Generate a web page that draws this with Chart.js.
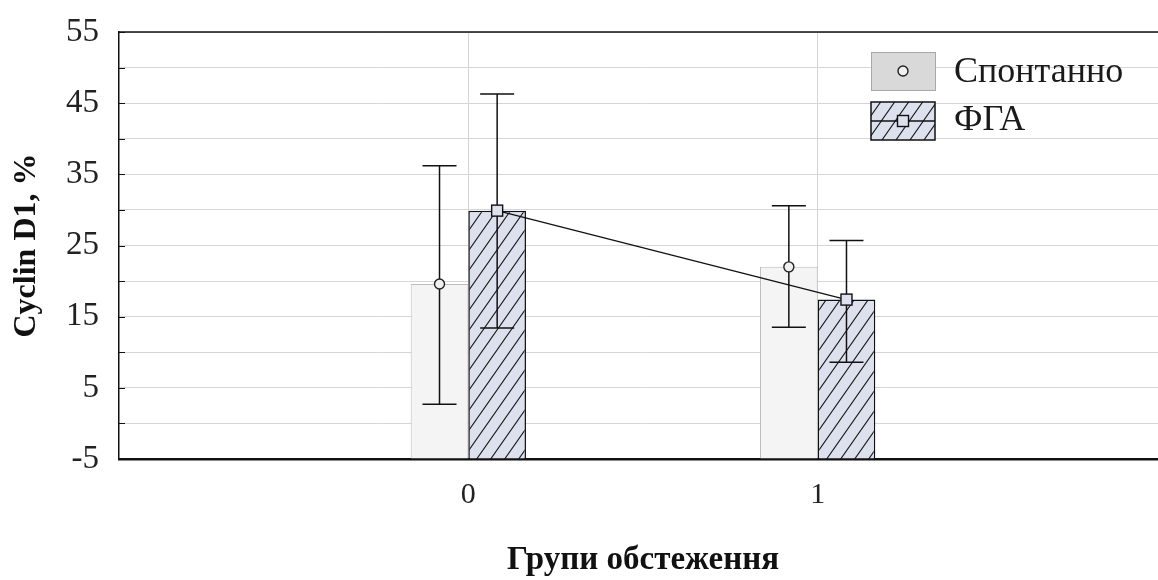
<!DOCTYPE html>
<html>
<head>
<meta charset="utf-8">
<script src="https://cdn.jsdelivr.net/npm/chart.js@4.4.1/dist/chart.umd.min.js"></script>
<style>
  html, body { margin: 0; padding: 0; background: #fff; overflow: hidden; }
  #wrap { width: 1167px; height: 580px; }
</style>
</head>
<body>
<div id="wrap"><canvas id="c" width="1167" height="580"></canvas></div>
<script>
// ---- data ----
const groups = [0, 1];
const seriesNames = ['Спонтанно', 'ФГА'];
const spontMean = [19.6, 22.0];
const spontLow  = [2.7, 13.5];
const spontHigh = [36.2, 30.6];
const fgaMean = [29.9, 17.4];
const fgaLow  = [13.4, 8.6];
const fgaHigh = [46.3, 25.7];
const yTickLabels = [-5, 5, 15, 25, 35, 45, 55];
const xTitle = 'Групи обстеження';
const yTitle = 'Cyclin D1, %';

// ---- hatch pattern ----
function makeHatch() {
  const w = 14, h = 20;
  const cv = document.createElement('canvas');
  cv.width = w; cv.height = h;
  const g = cv.getContext('2d');
  g.fillStyle = '#dde1ee';
  g.fillRect(0, 0, w, h);
  g.strokeStyle = '#1a1a1a';
  g.lineWidth = 1.1;
  g.beginPath();
  g.moveTo(-w, 2 * h); g.lineTo(2 * w, -h);
  g.moveTo(-2 * w, 2 * h); g.lineTo(w, -h);
  g.moveTo(0, 2 * h); g.lineTo(3 * w, -h);
  g.stroke();
  return g.createPattern(cv, 'repeat');
}
const ctx0 = document.getElementById('c').getContext('2d');
const hatch = makeHatch();

const SERIF = "'Liberation Serif', 'Times New Roman', serif";

function drawCircleMarker(ctx, x, y) {
  ctx.save();
  ctx.beginPath();
  ctx.arc(x, y, 5, 0, Math.PI * 2);
  ctx.fillStyle = '#f0f0f0';
  ctx.fill();
  ctx.lineWidth = 1.4;
  ctx.strokeStyle = '#222';
  ctx.stroke();
  ctx.restore();
}
function drawSquareMarker(ctx, x, y) {
  ctx.save();
  ctx.fillStyle = '#dde1ee';
  ctx.fillRect(x - 5.5, y - 5.5, 11, 11);
  ctx.lineWidth = 1.4;
  ctx.strokeStyle = '#111';
  ctx.strokeRect(x - 5.5, y - 5.5, 11, 11);
  ctx.restore();
}

const overlay = {
  id: 'overlay',
  afterDatasetsDraw(chart) {
    const ctx = chart.ctx;
    const ys = chart.scales.y;
    const area = chart.chartArea;
    const m0 = chart.getDatasetMeta(0).data;
    const m1 = chart.getDatasetMeta(1).data;

    // connecting line for ФГА
    ctx.save();
    ctx.strokeStyle = '#111';
    ctx.lineWidth = 1.3;
    ctx.beginPath();
    m1.forEach((el, i) => {
      const py = ys.getPixelForValue(fgaMean[i]);
      if (i === 0) ctx.moveTo(el.x, py); else ctx.lineTo(el.x, py);
    });
    ctx.stroke();
    ctx.restore();

    // error bars
    const sets = [[m0, spontLow, spontHigh], [m1, fgaLow, fgaHigh]];
    ctx.save();
    ctx.strokeStyle = '#111';
    ctx.lineWidth = 1.5;
    sets.forEach(([meta, lo, hi]) => {
      meta.forEach((el, i) => {
        const yl = ys.getPixelForValue(lo[i]);
        const yh = ys.getPixelForValue(hi[i]);
        ctx.beginPath();
        ctx.moveTo(el.x, yl); ctx.lineTo(el.x, yh);
        ctx.moveTo(el.x - 17, yl); ctx.lineTo(el.x + 17, yl);
        ctx.moveTo(el.x - 17, yh); ctx.lineTo(el.x + 17, yh);
        ctx.stroke();
      });
    });
    ctx.restore();

    // markers
    m0.forEach((el, i) => drawCircleMarker(ctx, el.x, ys.getPixelForValue(spontMean[i])));
    m1.forEach((el, i) => drawSquareMarker(ctx, el.x, ys.getPixelForValue(fgaMean[i])));

    // frame: top line and inner tick marks
    ctx.save();
    ctx.strokeStyle = '#111';
    ctx.lineWidth = 1.5;
    ctx.beginPath();
    ctx.moveTo(area.left, area.top); ctx.lineTo(area.right, area.top);
    ctx.stroke();
    ctx.lineWidth = 1;
    ctx.beginPath();
    ys.ticks.forEach(t => {
      const py = Math.round(ys.getPixelForValue(t.value)) + 0.5;
      ctx.moveTo(area.left, py); ctx.lineTo(area.left + 6, py);
    });
    ctx.stroke();
    ctx.restore();

    // legend
    const lx = area.left + 752, ly = area.top + 20, bw = 64, bh = 38, gap = 50;
    ctx.save();
    ctx.fillStyle = '#d9d9d9';
    ctx.fillRect(lx, ly, bw, bh);
    ctx.strokeStyle = '#a8a8a8';
    ctx.lineWidth = 1;
    ctx.strokeRect(lx + 0.5, ly + 0.5, bw, bh);
    drawCircleMarker(ctx, lx + bw / 2, ly + bh / 2);
    const ly2 = ly + gap;
    ctx.fillStyle = hatch;
    ctx.fillRect(lx, ly2, bw, bh);
    ctx.strokeStyle = '#111';
    ctx.lineWidth = 1.5;
    ctx.strokeRect(lx, ly2, bw, bh);
    ctx.lineWidth = 1.3;
    ctx.beginPath();
    ctx.moveTo(lx, ly2 + bh / 2); ctx.lineTo(lx + bw, ly2 + bh / 2);
    ctx.stroke();
    drawSquareMarker(ctx, lx + bw / 2, ly2 + bh / 2);
    ctx.fillStyle = '#1a1a1a';
    ctx.font = '36px ' + SERIF;
    ctx.textBaseline = 'middle';
    ctx.textAlign = 'left';
    ctx.fillText(seriesNames[0], lx + bw + 19, ly + bh / 2 + 2);
    ctx.fillText(seriesNames[1], lx + bw + 19, ly2 + bh / 2);
    ctx.restore();
  }
};

new Chart(document.getElementById('c'), {
  type: 'bar',
  data: {
    datasets: [
      {
        label: seriesNames[0],
        data: groups.map((g, i) => ({ x: g, y: spontMean[i] })),
        backgroundColor: '#f4f4f4',
        borderColor: '#bdbdbd',
        borderWidth: 1,
        base: -5,
        categoryPercentage: 0.33,
        barPercentage: 1.0
      },
      {
        label: seriesNames[1],
        data: groups.map((g, i) => ({ x: g, y: fgaMean[i] })),
        backgroundColor: hatch,
        borderColor: '#111',
        borderWidth: 1.5,
        base: -5,
        categoryPercentage: 0.33,
        barPercentage: 1.0
      }
    ]
  },
  options: {
    responsive: false,
    animation: false,
    devicePixelRatio: 1,
    layout: { padding: { top: 32, left: 0, right: 0, bottom: 0 } },
    plugins: { legend: { display: false }, tooltip: { enabled: false } },
    scales: {
      x: {
        type: 'linear',
        min: -1,
        max: 2,
        offset: false,
        afterFit: s => { s.height = 121; s.paddingLeft = 0; s.paddingRight = 0; },
        ticks: {
          stepSize: 1,
          autoSkip: false,
          maxRotation: 0,
          padding: 18,
          color: '#222',
          font: { family: SERIF, size: 30 },
          callback: v => (groups.includes(v) ? String(v) : '')
        },
        grid: {
          offset: false,
          drawTicks: false,
          color: c => (c.tick && groups.includes(c.tick.value) ? '#d4d4d4' : 'rgba(0,0,0,0)'),
          lineWidth: 1
        },
        border: { display: true, color: '#111', width: 2.5 },
        title: {
          display: true,
          text: xTitle,
          color: '#111',
          font: { family: SERIF, size: 33, weight: 'bold' },
          padding: { top: 31, bottom: 0 }
        }
      },
      y: {
        min: -5,
        max: 55,
        afterFit: s => { s.width = 119; s.paddingTop = 0; s.paddingBottom = 0; },
        ticks: {
          stepSize: 5,
          autoSkip: false,
          padding: 20,
          color: '#222',
          font: { family: SERIF, size: 33 },
          callback: v => (yTickLabels.includes(v) ? String(v) : '')
        },
        grid: { drawTicks: false, color: '#d6d6d6', lineWidth: 1 },
        border: { display: true, color: '#111', width: 1.5 },
        title: {
          display: true,
          text: yTitle,
          color: '#111',
          font: { family: SERIF, size: 32, weight: 'bold' },
          padding: { top: 8, bottom: 0 }
        }
      }
    }
  },
  plugins: [overlay]
});
</script>
</body>
</html>
